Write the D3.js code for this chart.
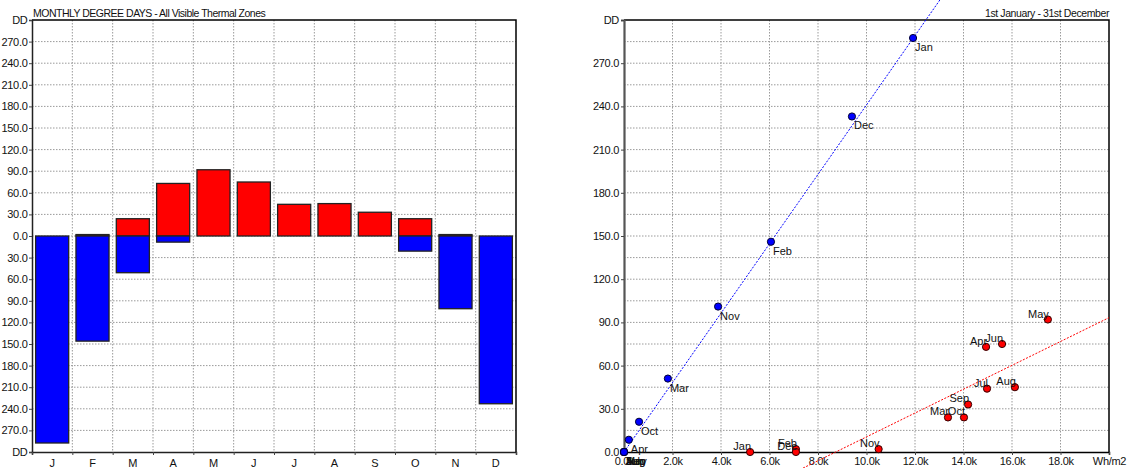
<!DOCTYPE html>
<html>
<head>
<meta charset="utf-8">
<script src="https://cdn.jsdelivr.net/npm/d3@7"></script>
<style>
  html, body { margin: 0; padding: 0; background: #fff; }
  svg { display: block; font-family: "Liberation Sans", Arial, sans-serif; }
  .tick text { font-size: 11px; fill: #111; letter-spacing: -0.3px; }
</style>
</head>
<body>
<svg id="chart" width="1132" height="468"></svg>
<script>
// Monthly degree days per month (heating shown below zero, cooling above)
const monthLetters = ["J","F","M","A","M","J","J","A","S","O","N","D"];
const monthNames = ["Jan","Feb","Mar","Apr","May","Jun","Jul","Aug","Sep","Oct","Nov","Dec"];
const heatingDD = [287.5, 146, 51, 8.5, 0, 0, 0, 0, 0, 21, 101, 233];
const coolingDD = [0, 2, 24, 73, 92, 75, 44, 45, 33, 24, 2, 0];

// Incident solar radiation (Wh/m2) paired with each month's degree days
const heatingRad = [11920, 6060, 1810, 200, 0, 0, 0, 0, 0, 620, 3880, 9400];
const coolingRad = [5200, 7090, 13360, 14930, 17480, 15590, 14970, 16120, 14190, 14020, 10500, 7090];

// Trend lines: [slope (DD per Wh/m2), intercept (DD)]
const heatingTrend = [0.0241, 0];
const coolingTrend = [0.00828, -72.3];

// Axis tick values
const barTicks = d3.range(-300, 301, 30);
const scatterYTicks = d3.range(0, 301, 30);
const scatterYGrid = d3.range(15, 300, 15);
const scatterXTicks = d3.range(0, 20001, 2000);

const svg = d3.select("#chart");
const HEAT = "#0000ff", COOL = "#ff0000", GRID = "#9a9a9a";

// ---------- Left: monthly bar chart ----------
const L = { left: 32, right: 516, top: 20, bottom: 452 };
const xb = d3.scaleBand().domain(d3.range(12)).range([L.left, L.right]).paddingInner(0.18).paddingOuter(0.09);
const xbEdge = d3.scaleLinear().domain([0, 12]).range([L.left, L.right]);
const yb = d3.scaleLinear().domain([-300, 300]).range([L.bottom, L.top]);

const gl = svg.append("g");
// grid
gl.append("g").selectAll("line").data(barTicks.filter(v => Math.abs(v) < 300)).join("line")
  .attr("x1", L.left).attr("x2", L.right).attr("y1", d => yb(d)).attr("y2", d => yb(d))
  .attr("stroke", GRID).attr("stroke-dasharray", "1.5,1.5").attr("stroke-width", 1);
gl.append("g").selectAll("line").data(d3.range(1, 12)).join("line")
  .attr("x1", d => xbEdge(d)).attr("x2", d => xbEdge(d)).attr("y1", L.top).attr("y2", L.bottom)
  .attr("stroke", GRID).attr("stroke-dasharray", "1.5,1.5").attr("stroke-width", 1);

// bars
gl.append("g").selectAll("rect.cool").data(coolingDD).join("rect")
  .attr("x", (d, i) => xb(i)).attr("width", xb.bandwidth())
  .attr("y", d => yb(d)).attr("height", d => yb(0) - yb(d))
  .attr("fill", COOL).attr("stroke", "#222").attr("stroke-width", 1.3);
gl.append("g").selectAll("rect.heat").data(heatingDD).join("rect")
  .attr("x", (d, i) => xb(i)).attr("width", xb.bandwidth())
  .attr("y", yb(0)).attr("height", d => yb(-d) - yb(0))
  .attr("fill", HEAT).attr("stroke", "#222").attr("stroke-width", 1.3);

// frame
gl.append("path")
  .attr("d", `M${L.left},${L.top}H${L.right}V${L.bottom}`)
  .attr("fill", "none").attr("stroke", "#000").attr("stroke-width", 1.5);

// y axis
const yAxisL = d3.axisLeft(yb).tickValues(barTicks).tickSize(3).tickPadding(1.5)
  .tickFormat(d => Math.abs(d) === 300 ? "DD" : Math.abs(d).toFixed(1));
gl.append("g").attr("transform", `translate(${L.left},0)`).call(yAxisL)
  .call(g => g.select(".domain").attr("stroke", "#222").attr("stroke-width", 1.5))
  .call(g => g.selectAll(".tick line").attr("stroke", "#444"));

// x axis with month letters centred in each band
const xAxisL = d3.axisBottom(xbEdge).tickValues(d3.range(0, 13)).tickSize(3).tickFormat("");
gl.append("g").attr("transform", `translate(0,${L.bottom})`).call(xAxisL)
  .call(g => g.select(".domain").attr("stroke", "#222").attr("stroke-width", 1.5))
  .call(g => g.selectAll(".tick line").attr("stroke", "#444"));
gl.append("g").selectAll("text").data(monthLetters).join("text")
  .attr("x", (d, i) => xb(i) + xb.bandwidth() / 2).attr("y", 467)
  .attr("text-anchor", "middle").attr("font-size", 11).attr("fill", "#111")
  .text(d => d);

gl.append("text").attr("x", 33).attr("y", 17).attr("font-size", 10.5).attr("fill", "#111")
  .attr("letter-spacing", "-0.5")
  .text("MONTHLY DEGREE DAYS - All Visible Thermal Zones");

// ---------- Right: degree days vs solar radiation ----------
const R = { left: 624, right: 1109, top: 20, bottom: 452 };
const xs = d3.scaleLinear().domain([0, 20000]).range([R.left, R.right]);
const ys = d3.scaleLinear().domain([0, 300]).range([R.bottom, R.top]);

const gr = svg.append("g");
gr.append("g").selectAll("line").data(scatterYGrid).join("line")
  .attr("x1", R.left).attr("x2", R.right).attr("y1", d => ys(d)).attr("y2", d => ys(d))
  .attr("stroke", GRID).attr("stroke-dasharray", "1.5,1.5");
gr.append("g").selectAll("line").data(scatterXTicks.filter(v => v > 0 && v < 20000)).join("line")
  .attr("x1", d => xs(d)).attr("x2", d => xs(d)).attr("y1", R.top).attr("y2", R.bottom)
  .attr("stroke", GRID).attr("stroke-dasharray", "1.5,1.5");

gr.append("path")
  .attr("d", `M${R.left},${R.top}H${R.right}V${R.bottom}`)
  .attr("fill", "none").attr("stroke", "#000").attr("stroke-width", 1.5);

const yAxisR = d3.axisLeft(ys).tickValues(scatterYTicks).tickSize(3).tickPadding(2)
  .tickFormat(d => d === 300 ? "DD" : d.toFixed(1));
gr.append("g").attr("transform", `translate(${R.left},0)`).call(yAxisR)
  .call(g => g.select(".domain").attr("stroke", "#555").attr("stroke-width", 2.2))
  .call(g => g.selectAll(".tick line").attr("stroke", "#444"));

const xAxisR = d3.axisBottom(xs).tickValues(scatterXTicks).tickSize(3)
  .tickFormat(d => d === 20000 ? "Wh/m2" : (d / 1000).toFixed(1) + "k");
gr.append("g").attr("transform", `translate(0,${R.bottom})`).call(xAxisR)
  .call(g => g.select(".domain").attr("stroke", "#000").attr("stroke-width", 1.5))
  .call(g => g.selectAll(".tick line").attr("stroke", "#444"))
  .call(g => g.selectAll(".tick text").attr("dy", "0.6em"));

// trend lines (drawn across the full radiation range)
const trendLine = ([m, b]) => [[0, b], [20000, m * 20000 + b]];
const line = d3.line().x(d => xs(d[0])).y(d => ys(d[1]));
gr.append("path").attr("d", line(trendLine(coolingTrend)))
  .attr("fill", "none").attr("stroke", COOL).attr("stroke-width", 1).attr("stroke-dasharray", "2,1.5");
gr.append("path").attr("d", line(trendLine(heatingTrend)))
  .attr("fill", "none").attr("stroke", HEAT).attr("stroke-width", 1).attr("stroke-dasharray", "2,1.5");

// cooling points (labels above-left)
const cool = monthNames.map((m, i) => ({ m, x: coolingRad[i], y: coolingDD[i] }));
const heat = monthNames.map((m, i) => ({ m, x: heatingRad[i], y: heatingDD[i] }));

gr.append("g").selectAll("circle").data(cool).join("circle")
  .attr("cx", d => xs(d.x)).attr("cy", d => ys(d.y)).attr("r", 3.6)
  .attr("fill", COOL).attr("stroke", "#300").attr("stroke-width", 1);
gr.append("g").selectAll("text").data(cool).join("text")
  .attr("x", d => xs(d.x) + 1).attr("y", d => ys(d.y) - 2)
  .attr("text-anchor", "end").attr("font-size", 11).attr("fill", "#111")
  .text(d => d.m);

// heating points (labels below-right)
gr.append("g").selectAll("circle").data(heat).join("circle")
  .attr("cx", d => xs(d.x)).attr("cy", d => ys(d.y)).attr("r", 3.6)
  .attr("fill", HEAT).attr("stroke", "#003").attr("stroke-width", 1);
gr.append("g").selectAll("text").data(heat).join("text")
  .attr("x", d => xs(d.x) + 2).attr("y", d => ys(d.y) + 13)
  .attr("font-size", 11).attr("fill", "#111")
  .text(d => d.m);

gr.append("text").attr("x", 1109).attr("y", 17).attr("text-anchor", "end")
  .attr("font-size", 10.5).attr("fill", "#111").attr("letter-spacing", "-0.4")
  .text("1st January - 31st December");
</script>
</body>
</html>
